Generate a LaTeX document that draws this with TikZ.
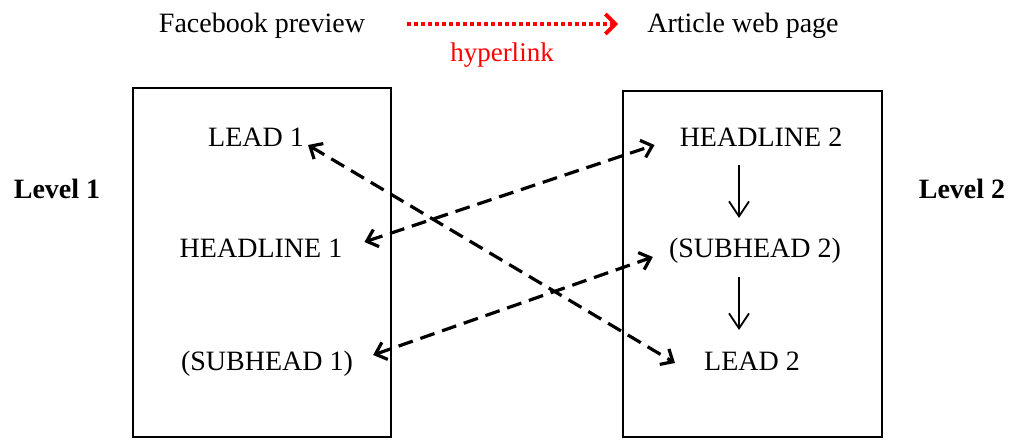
\documentclass[tikz,border=0pt]{standalone}
\usepackage{fontspec}
\setmainfont{Liberation Serif}
\usetikzlibrary{arrows.meta,calc}
\begin{document}
\begin{tikzpicture}[x=1pt,y=1pt,
  txt/.style={font=\fontsize{28}{32}\selectfont, inner sep=0pt, anchor=base},
  lvl/.style={txt, font=\fontsize{28}{32}\selectfont\bfseries},
  panel/.style={draw, line width=2.8pt},
  barb/.tip={Straight Barb[length=10pt,width=18pt,line width=3.2pt]},
  link/.style={line width=3.2pt, dash pattern=on 15pt off 8pt, barb-barb},
  flow/.style={line width=1.8pt, -{Straight Barb[length=15pt,width=20pt,line width=1.8pt]}},
  hyper/.style={red, line width=4pt, dash pattern=on 3.5pt off 3.5pt,
    -{Straight Barb[length=10pt,width=20pt,line width=4pt]}}
]
\useasboundingbox (0,0) rectangle (1011,439);

% header: preview links to the article page
\node[txt] (fb)  at (262,406) {Facebook preview};
\node[txt] (awp) at (743,406) {Article web page};
\node[txt, red, font=\fontsize{27}{31}\selectfont] (hl) at (502,377) {hyperlink};
\draw[hyper] ($(fb.base east)+(42,9)$) -- ($(awp.base west)+(-29,9)$);

% level labels
\node[lvl] (lv1) at (57,240) {Level 1};
\node[lvl] (lv2) at (962,240) {Level 2};

% the two panels
\draw[panel] (133,2) rectangle (391,351);
\draw[panel] (623,2) rectangle (882,348);

% left panel contents
\node[txt] (lead1) at (256,292) {LEAD 1};
\node[txt] (head1) at (261,181) {HEADLINE 1};
\node[txt] (sub1)  at (267,69)  {(SUBHEAD 1)};

% right panel contents
\node[txt] (head2) at (761,292) {HEADLINE 2};
\node[txt] (sub2)  at (755,181) {(SUBHEAD 2)};
\node[txt] (lead2) at (752,69)  {LEAD 2};

% reading order on the article page
\draw[flow] ($(head2.base)+(-22,-18)$) -- ($(sub2.base)+(-16,40)$);
\draw[flow] ($(sub2.base)+(-16,-19)$) -- ($(lead2.base)+(-13,40)$);

% correspondences between the two levels
\draw[link] ($(lead1.base east)+(4,2)$) -- ($(lead2.base west)+(-29,7)$);
\draw[link] ($(head1.base east)+(22,16)$) -- ($(head2.base west)+(-25,2)$);
\draw[link] ($(sub1.base east)+(20,15)$) -- ($(sub2.base west)+(-16,1)$);
\end{tikzpicture}
\end{document}
